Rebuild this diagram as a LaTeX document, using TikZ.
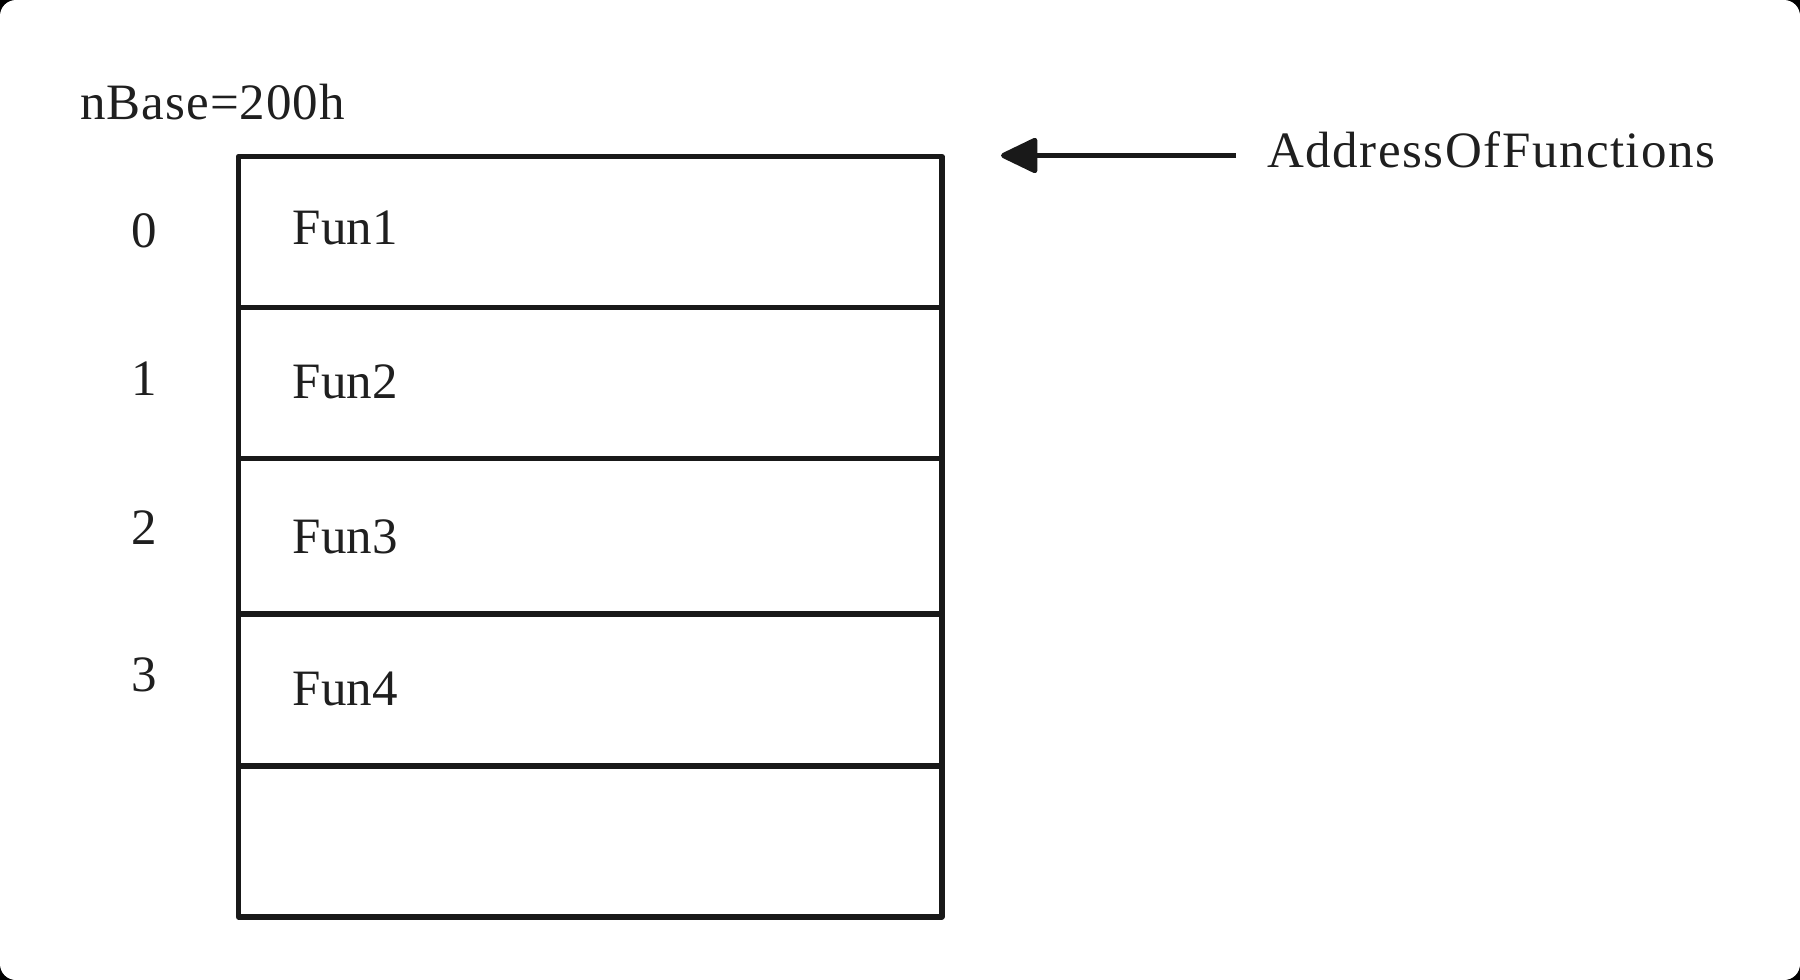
\documentclass[tikz,border=0pt]{standalone}
\usepackage{fontspec}
\setmainfont{Liberation Serif}
\usetikzlibrary{arrows.meta}
\begin{document}
\begin{tikzpicture}[x=0.5pt,y=-0.5pt,
  cell/.style={draw=black!90,line width=2.8pt,minimum width=351.6pt,inner sep=0pt,outer sep=0pt,anchor=north west,line join=round},
  lbl/.style={inner sep=0pt,font=\fontsize{25.5}{30}\selectfont,text=black!88},
  ptr/.style={draw=black!90,line width=2.6pt,-{Triangle[length=20pt,width=18.5pt,round]}}]
\fill[black] (0,0) rectangle (1800,980);
\fill[white,rounded corners=8pt] (0,0) rectangle (1800,980);
\useasboundingbox (0,0) rectangle (1800,980);
% table rows
\node[cell,minimum height=75.4pt] (r0) at (238.5,156.5) {};
\node[cell,minimum height=75.5pt] (r1) at (238.5,307.3) {};
\node[cell,minimum height=77.95pt] (r2) at (238.5,458.3) {};
\node[cell,minimum height=75.75pt] (r3) at (238.5,614.2) {};
\node[cell,minimum height=75.5pt] (r4) at (238.5,765.7) {};
% contents
\node[lbl,anchor=west] (f1) at (292.5,227.5) {Fun1};
\node[lbl,anchor=west] (f2) at (292.5,381.7) {Fun2};
\node[lbl,anchor=west] (f3) at (292.5,537.3) {Fun3};
\node[lbl,anchor=west] (f4) at (292.5,688.8) {Fun4};
% indices
\node[lbl] (i0) at (144.6,230.5) {0};
\node[lbl] (i1) at (144.6,378.8) {1};
\node[lbl] (i2) at (144.6,528) {2};
\node[lbl] (i3) at (144.6,675) {3};
% base label
\node[lbl,anchor=west] (base) at (80,102) {\addfontfeature{LetterSpace=2}nBase=200h};
% pointer
\node[lbl,anchor=west] (aof) at (1267,150) {\addfontfeature{LetterSpace=3}AddressOfFunctions};
\coordinate (ps) at (1236,155.5);
\coordinate (pt) at (1001,155.5);
\draw[ptr] (ps) -- (pt);
\end{tikzpicture}
\end{document}
